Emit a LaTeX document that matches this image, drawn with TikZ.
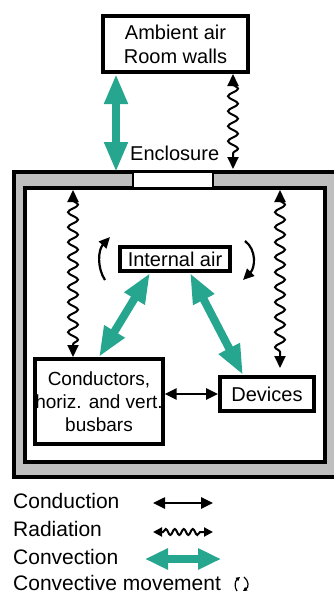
\documentclass[tikz,border=0pt]{standalone}
\usepackage{fontspec}
\setmainfont{Liberation Sans}
\usetikzlibrary{arrows.meta,decorations.pathmorphing}
\definecolor{convgreen}{HTML}{26A68F}
\definecolor{wallgray}{HTML}{BFBFBF}
\begin{document}
\begin{tikzpicture}[x=1pt,y=-1pt,font=\fontsize{20}{24}\selectfont,
  box/.style={draw,line width=4pt,align=center,inner sep=0pt},
  conv/.style={convgreen,line width=8pt,{Triangle[length=30pt,width=22pt]}-{Triangle[length=30pt,width=22pt]}},
  radiate/.style={line width=2pt,{Triangle[length=12pt,width=11pt]}-{Triangle[length=12pt,width=11pt]},decorate,decoration={snake,amplitude=5pt,segment length=15pt,pre length=10pt,post length=10pt}},
  conduct/.style={line width=2.5pt,{Triangle[length=12pt,width=11pt]}-{Triangle[length=12pt,width=11pt]}},
  move/.style={line width=2.2pt,-{Triangle[length=11pt,width=10pt]}},
  legend/.style={anchor=base west,inner sep=0pt,font=\fontsize{21}{24}\selectfont}]
\useasboundingbox (0,0) rectangle (334,597);
\draw[fill=wallgray,line width=3.5pt] (14,172) rectangle (345,477);
\draw[fill=white,line width=4pt] (25,188) rectangle (325,462);
\draw[fill=white,line width=2.5pt] (133,172) rectangle (213,188);
\node[box,minimum width=145pt,minimum height=56pt] (amb) at (175.5,44) {Ambient air\\Room walls};
\node[anchor=base west,inner sep=0pt] (encl) at (130,160) {Enclosure};
\node[box,minimum width=110pt,minimum height=24pt] (air) at (175,259) {Internal air};
\node[box,minimum width=124pt,minimum height=85pt,font=\fontsize{19}{23}\selectfont] (cond) at (99,401.5) {Conductors,\\horiz. and vert.\\busbars};
\node[box,minimum width=94pt,minimum height=34pt] (dev) at (267,394) {Devices};
\coordinate (cv) at (116,172);
\coordinate (rv) at (233,169);
\coordinate (rl) at (73,190);
\coordinate (rr) at (280,190);
\coordinate (rr2) at (280,368);
\draw[conv] (amb.south -| cv) -- (cv);
\draw[radiate] (amb.south -| rv) -- (rv);
\draw[radiate] (rl) -- (rl |- cond.north);
\draw[radiate] (rr) -- (rr2);
\draw[conv] (cond.north) -- ([xshift=-25pt]air.south);
\draw[conv] ([xshift=15pt]air.south) -- ([xshift=-24pt]dev.north);
\draw[conduct] (cond.east |- dev.west) -- (dev.west);
\draw[move] (105,280) .. controls (97,268) and (98,250) .. (110,237);
\draw[move] (245,241) .. controls (257,250) and (255,268) .. (243,280);
\node[legend] (lcond) at (13,508) {Conduction};
\node[legend] (lrad) at (13,536) {Radiation};
\node[legend] (lconv) at (13,564) {Convection};
\node[legend] (lmove) at (13,590) {Convective movement};
\coordinate (k1) at (153,503);
\coordinate (k2) at (213,503);
\coordinate (k3) at (153,532);
\coordinate (k4) at (213,532);
\coordinate (k5) at (145,559);
\coordinate (k6) at (221,559);
\draw[conduct] (k1) -- (k2);
\draw[radiate,{Triangle[length=9pt,width=9pt]}-{Triangle[length=9pt,width=9pt]},decoration={amplitude=3pt,segment length=9pt,pre length=10pt,post length=10pt}] (k3) -- (k4);
\draw[conv,{Triangle[length=23pt,width=20pt]}-{Triangle[length=23pt,width=20pt]}] (k5) -- (k6);
\draw[line width=1.2pt,-{Triangle[length=4pt,width=4pt]}] (237,591) .. controls (234,587) and (235,581) .. (240,577);
\draw[line width=1.2pt,-{Triangle[length=4pt,width=4pt]}] (244,577) .. controls (249,581) and (249,587) .. (243,591);
\end{tikzpicture}
\end{document}
